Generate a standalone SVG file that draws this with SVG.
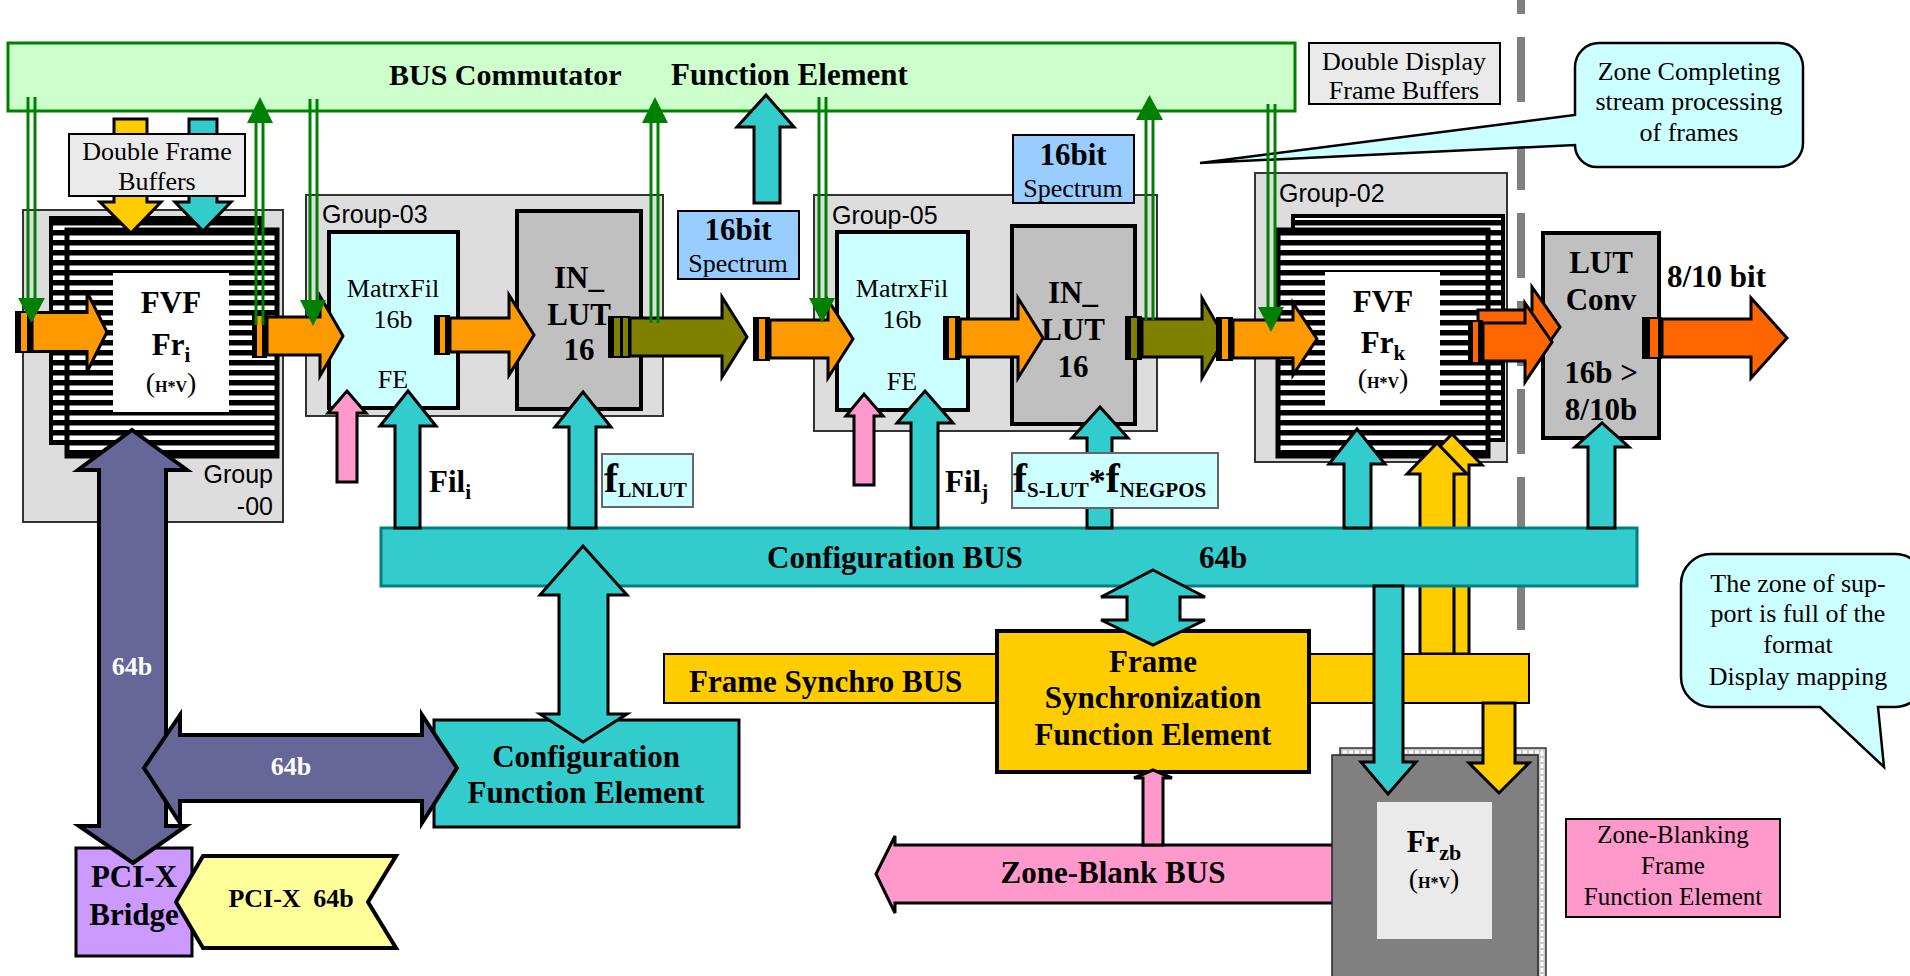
<svg xmlns="http://www.w3.org/2000/svg" width="1910" height="976" viewBox="0 0 1910 976">
<defs>
<pattern id="stripes" patternUnits="userSpaceOnUse" width="10" height="10">
<rect width="10" height="10" fill="#fff"/>
<rect width="10" height="5.5" fill="#000"/>
</pattern>
<style>
.b{font-family:"Liberation Serif",serif;font-weight:bold;fill:#000}
.r{font-family:"Liberation Serif",serif;fill:#000}
.s{font-family:"Liberation Sans",sans-serif;fill:#000}
.grp{fill:#DDDDDD;stroke:#333;stroke-width:2}
.ln{stroke:#000;stroke-width:3;stroke-linejoin:miter}
.thin{stroke:#000;stroke-width:2}
.cy{fill:#33CCCC}
.ye{fill:#FFCC00}
.pk{fill:#FF99CC}
.or{fill:#FF9900}
.dor{fill:#FF6600}
.ol{fill:#808000}
.pu{fill:#666699}
.gl{stroke:#008000;stroke-width:3}
.gh{fill:#008000}
.fr{fill:url(#stripes);stroke:#000}
</style>
</defs>
<rect width="1910" height="976" fill="#fff"/>

<line x1="1521" y1="-51" x2="1521" y2="630" stroke="#808080" stroke-width="8" stroke-dasharray="65 23"/>

<g id="bus-commutator">
<rect x="8" y="43" width="1287" height="68" fill="#CCFFCC" stroke="#008000" stroke-width="3"/>
<text class="b" x="389" y="85" font-size="30">BUS Commutator</text>
<text class="b" x="671" y="85" font-size="31">Function Element</text>
</g>

<g id="double-display">
<rect x="1309" y="43" width="191" height="61" fill="#EAEAEA" class="thin"/>
<text class="r" x="1404" y="70" font-size="26" text-anchor="middle">Double Display</text>
<text class="r" x="1404" y="99" font-size="26" text-anchor="middle">Frame Buffers</text>
</g>

<g id="callout-zone-completing">
<path d="M1599,43 H1779 A24,24 0 0 1 1803,67 V143 A24,24 0 0 1 1779,167 H1597 A22,22 0 0 1 1575,145 L1200,163 L1575,115 V67 A24,24 0 0 1 1599,43 Z" fill="#CCFFFF" stroke="#000" stroke-width="2.5"/>
<text class="r" x="1689" y="80" font-size="26" text-anchor="middle">Zone Completing</text>
<text class="r" x="1689" y="110" font-size="26" text-anchor="middle">stream processing</text>
<text class="r" x="1689" y="141" font-size="26" text-anchor="middle">of frames</text>
</g>

<g id="group-00">
<rect class="grp" x="23" y="210" width="260" height="312"/>
<text class="s" x="273" y="483" font-size="25" text-anchor="end">Group</text>
<text class="s" x="273" y="515" font-size="25" text-anchor="end">-00</text>
</g>
<g id="group-03">
<rect class="grp" x="306" y="195" width="357" height="221"/>
<text class="s" x="322" y="223" font-size="25">Group-03</text>
</g>
<g id="group-05">
<rect class="grp" x="814" y="195" width="343" height="236"/>
<text class="s" x="832" y="224" font-size="25">Group-05</text>
</g>
<g id="group-02">
<rect class="grp" x="1255" y="173" width="252" height="289"/>
<text class="s" x="1279" y="202" font-size="25">Group-02</text>
</g>

<g id="fvf-i">
<rect class="fr" x="51" y="218" width="210" height="225" stroke-width="4"/>
<rect class="fr" x="67" y="230" width="210" height="226" stroke-width="5"/>
<rect x="113" y="273" width="116" height="139" fill="#fff"/>
<text class="b" x="171" y="313" font-size="31" text-anchor="middle">FVF</text>
<text class="b" x="171" y="355" font-size="31" text-anchor="middle">Fr<tspan font-size="21" dy="7">i</tspan></text>
<text class="r" x="171" y="392" font-size="28" text-anchor="middle">(<tspan class="b" font-size="16">H*V</tspan>)</text>
</g>

<g id="connectors-dfb">
<polygon class="ye ln" points="114,119 147,119 147,202 161,202 131,233 100,202 114,202" stroke-width="2"/>
<polygon class="cy ln" points="189,119 217,119 217,202 231,202 203,231 175,202 189,202" stroke-width="2"/>
</g>

<g id="double-frame-buffers">
<rect x="69" y="134" width="176" height="62" fill="#EAEAEA" class="thin"/>
<text class="r" x="157" y="160" font-size="26" text-anchor="middle">Double Frame</text>
<text class="r" x="157" y="190" font-size="26" text-anchor="middle">Buffers</text>
</g>

<g id="fvf-k">
<rect class="fr" x="1293" y="216" width="210" height="224" stroke-width="4"/>
<rect class="fr" x="1278" y="230" width="210" height="226" stroke-width="5"/>
<rect x="1325" y="272" width="115" height="136" fill="#fff"/>
<text class="b" x="1383" y="312" font-size="31" text-anchor="middle">FVF</text>
<text class="b" x="1383" y="353" font-size="31" text-anchor="middle">Fr<tspan font-size="21" dy="7">k</tspan></text>
<text class="r" x="1383" y="388" font-size="28" text-anchor="middle">(<tspan class="b" font-size="16">H*V</tspan>)</text>
</g>

<g id="matrxfil-03">
<rect x="329" y="232" width="129" height="176" fill="#CCFFFF" stroke="#000" stroke-width="4"/>
<text class="r" x="393" y="297" font-size="26" text-anchor="middle">MatrxFil</text>
<text class="r" x="393" y="328" font-size="26" text-anchor="middle">16b</text>
<text class="r" x="393" y="388" font-size="26" text-anchor="middle">FE</text>
</g>
<g id="inlut-03">
<rect x="517" y="211" width="124" height="198" fill="#C0C0C0" stroke="#000" stroke-width="4"/>
<text class="b" x="579" y="288" font-size="31" text-anchor="middle">IN_</text>
<text class="b" x="579" y="325" font-size="31" text-anchor="middle">LUT</text>
<text class="b" x="579" y="360" font-size="31" text-anchor="middle">16</text>
</g>
<g id="spectrum-1">
<rect x="678" y="211" width="121" height="68" fill="#99CCFF" class="thin"/>
<text class="b" x="738" y="240" font-size="31" text-anchor="middle">16bit</text>
<text class="r" x="738" y="272" font-size="26" text-anchor="middle">Spectrum</text>
</g>
<g id="matrxfil-05">
<rect x="837" y="232" width="131" height="178" fill="#CCFFFF" stroke="#000" stroke-width="4"/>
<text class="r" x="902" y="297" font-size="26" text-anchor="middle">MatrxFil</text>
<text class="r" x="902" y="328" font-size="26" text-anchor="middle">16b</text>
<text class="r" x="902" y="390" font-size="26" text-anchor="middle">FE</text>
</g>
<g id="inlut-05">
<rect x="1012" y="226" width="123" height="198" fill="#C0C0C0" stroke="#000" stroke-width="4"/>
<text class="b" x="1073" y="303" font-size="31" text-anchor="middle">IN_</text>
<text class="b" x="1073" y="340" font-size="31" text-anchor="middle">LUT</text>
<text class="b" x="1073" y="377" font-size="31" text-anchor="middle">16</text>
</g>
<g id="spectrum-2">
<rect x="1013" y="135" width="121" height="68" fill="#99CCFF" class="thin"/>
<text class="b" x="1073" y="165" font-size="31" text-anchor="middle">16bit</text>
<text class="r" x="1073" y="197" font-size="26" text-anchor="middle">Spectrum</text>
</g>
<g id="lut-conv">
<rect x="1543" y="233" width="116" height="205" fill="#C0C0C0" stroke="#000" stroke-width="4"/>
<text class="b" x="1601" y="273" font-size="31" text-anchor="middle">LUT</text>
<text class="b" x="1601" y="310" font-size="31" text-anchor="middle">Conv</text>
<text class="b" x="1601" y="383" font-size="31" text-anchor="middle">16b &gt;</text>
<text class="b" x="1601" y="420" font-size="31" text-anchor="middle">8/10b</text>
</g>

<g id="connectors-mid">
<polygon class="cy ln" points="754,203 754,127 737,127 766,95 794,127 780,127 780,203"/>
<polygon class="ye ln" points="1435,654 1435,465 1422,465 1452,434 1482,465 1469,465 1469,654" stroke-width="2"/>
<polygon class="ye ln" points="1420,654 1420,474 1407,474 1437,443 1467,474 1454,474 1454,654" stroke-width="2"/>
</g>

<g id="configuration-bus">
<rect x="381" y="528" width="1256" height="58" fill="#33CCCC" stroke="#008080" stroke-width="3"/>
<text class="b" x="767" y="568" font-size="31">Configuration BUS</text>
<text class="b" x="1199" y="568" font-size="31">64b</text>
</g>

<g id="connectors-config">
<polygon class="cy ln" points="395,528 395,426 380,426 408,391 436,426 420,426 420,528"/>
<polygon class="cy ln" points="569,528 569,427 555,427 583,392 611,427 596,427 596,528"/>
<polygon class="cy ln" points="911,528 911,423 897,423 925,391 953,423 938,423 938,528"/>
<polygon class="cy ln" points="1087,528 1087,438 1072,438 1100,407 1128,438 1112,438 1112,528"/>
<polygon class="cy ln" points="1344,528 1344,464 1329,464 1357,429 1385,464 1371,464 1371,528"/>
<polygon class="cy ln" points="1588,528 1588,447 1575,447 1602,423 1629,447 1615,447 1615,528"/>
<polygon class="pk ln" points="337,482 337,413 328,413 347,391 366,413 357,413 357,482"/>
<polygon class="pk ln" points="854,485 854,416 846,416 864,394 883,416 874,416 874,485"/>
</g>

<g id="label-fil-i"><text class="b" x="429" y="492" font-size="31">Fil<tspan font-size="21" dy="7">i</tspan></text></g>
<g id="label-fil-j"><text class="b" x="945" y="492" font-size="31">Fil<tspan font-size="21" dy="7">j</tspan></text></g>
<g id="label-flnlut">
<rect x="602" y="454" width="91" height="53" fill="#CCFFFF" stroke="#666" stroke-width="2"/>
<text class="b" x="604" y="492" font-size="42">f<tspan font-size="20" dy="5">LNLUT</tspan></text>
</g>
<g id="label-fslut">
<rect x="1012" y="453" width="206" height="55" fill="#CCFFFF" stroke="#666" stroke-width="2"/>
<text class="b" x="1013" y="492" font-size="42">f<tspan font-size="21" dy="5">S-LUT</tspan><tspan font-size="34" dy="-5">*</tspan>f<tspan font-size="21" dy="5">NEGPOS</tspan></text>
</g>

<g id="frame-synchro-bus">
<rect x="664" y="654" width="865" height="49" fill="#FFCC00" class="thin"/>
<text class="b" x="689" y="692" font-size="31">Frame Synchro BUS</text>
</g>
<g id="frame-sync-fe">
<rect x="997" y="631" width="312" height="141" fill="#FFCC00" stroke="#000" stroke-width="4"/>
<text class="b" x="1153" y="672" font-size="31" text-anchor="middle">Frame</text>
<text class="b" x="1153" y="708" font-size="31" text-anchor="middle">Synchronization</text>
<text class="b" x="1153" y="745" font-size="31" text-anchor="middle">Function Element</text>
</g>
<g id="config-fe">
<rect x="434" y="720" width="305" height="107" fill="#33CCCC" stroke="#000" stroke-width="3"/>
<text class="b" x="586" y="767" font-size="31" text-anchor="middle">Configuration</text>
<text class="b" x="586" y="803" font-size="31" text-anchor="middle">Function Element</text>
</g>

<g id="connectors-low">
<polygon class="cy ln" points="1153,570 1205,597 1180,597 1180,620 1205,620 1153,645 1101,620 1127,620 1127,597 1101,597"/>
<polygon class="cy ln" points="583,546 627,595 608,595 608,714 627,714 583,742 540,714 559,714 559,595 540,595"/>
<polygon class="pk ln" points="1336,845 895,845 895,836 876,874 895,913 895,903 1336,903"/>
<polygon class="pk ln" points="1143,845 1143,778 1134,778 1153,770 1172,778 1163,778 1163,845" stroke-width="2"/>
</g>
<g id="zone-blank-label"><text class="b" x="1113" y="883" font-size="31" text-anchor="middle">Zone-Blank BUS</text></g>

<g id="fr-zb">
<rect x="1340" y="748" width="206" height="230" fill="#C8C8C8" stroke="#333" stroke-width="1.5"/>
<line x1="1343" y1="752" x2="1543" y2="752" stroke="#fff" stroke-width="3" stroke-dasharray="4 2"/>
<line x1="1542" y1="752" x2="1542" y2="976" stroke="#fff" stroke-width="3" stroke-dasharray="4 2"/>
<rect x="1332" y="755" width="206" height="223" fill="#808080" stroke="#222" stroke-width="1.5"/>
<rect x="1377" y="802" width="115" height="137" fill="#EAEAEA"/>
<text class="b" x="1434" y="852" font-size="31" text-anchor="middle">Fr<tspan font-size="22" dy="8">zb</tspan></text>
<text class="r" x="1434" y="888" font-size="28" text-anchor="middle">(<tspan class="b" font-size="16">H*V</tspan>)</text>
</g>

<g id="connectors-zb">
<polygon class="cy ln" points="1374,586 1403,586 1403,762 1416,762 1388,794 1361,762 1374,762"/>
<polygon class="ye ln" points="1483,703 1515,703 1515,763 1529,763 1499,793 1469,763 1483,763" stroke-width="2"/>
</g>

<g id="pci-bridge">
<rect x="76" y="848" width="116" height="108" fill="#CC99FF" stroke="#000" stroke-width="3"/>
<text class="b" x="134" y="887" font-size="31" text-anchor="middle">PCI-X</text>
<text class="b" x="134" y="925" font-size="31" text-anchor="middle">Bridge</text>
</g>
<g id="pci-x-64b">
<polygon points="203,856 396,856 368,902 396,948 203,948 176,902" fill="#FFFF99" stroke="#000" stroke-width="4"/>
<text class="b" x="291" y="907" font-size="26" text-anchor="middle">PCI-X <tspan dx="6">64b</tspan></text>
</g>

<g id="connectors-purple">
<polygon class="pu" points="132,430 187,470 166,470 166,826 186,826 133,863 79,826 99,826 99,470 78,470" stroke="#000" stroke-width="4"/>
<polygon class="pu" points="144,768 180,715 180,735 422,735 422,715 457,768 422,823 422,801 180,801 180,823" stroke="#000" stroke-width="4"/>
<text class="b" x="132" y="675" font-size="26" text-anchor="middle" style="fill:#fff">64b</text>
<text class="b" x="291" y="775" font-size="26" text-anchor="middle" style="fill:#fff">64b</text>
</g>

<g id="connectors-stream">
<rect x="15" y="311" width="17" height="42" fill="#000"/><rect x="21" y="313" width="6" height="38" class="or"/>
<polygon class="or ln" points="32,312.5 87,312.5 87,292 107,332 87,372 87,351.5 32,351.5"/>
<rect x="252" y="314" width="15" height="44" fill="#000"/><rect x="257" y="316" width="5" height="40" class="or"/>
<polygon class="or ln" points="267,317 320,317 320,296 343,336 320,376 320,355 267,355"/>
<rect x="434" y="315" width="16" height="40" fill="#000"/><rect x="440" y="317" width="5" height="36" class="or"/>
<polygon class="or ln" points="450,318 509,318 509,295 534,335 509,375 509,352 450,352"/>
<rect x="608" y="316" width="22" height="42" fill="#000"/><rect x="614" y="318" width="6" height="38" class="ol"/><rect x="623" y="318" width="5" height="38" class="ol"/>
<polygon class="ol ln" points="630,318 722,318 722,297 747,337 722,377 722,356 630,356"/>
<rect x="753" y="317" width="17" height="44" fill="#000"/><rect x="759" y="319" width="6" height="40" class="or"/>
<polygon class="or ln" points="770,320 828,320 828,300 853,339 828,378 828,358 770,358"/>
<rect x="943" y="316" width="17" height="44" fill="#000"/><rect x="949" y="318" width="6" height="40" class="or"/>
<polygon class="or ln" points="960,319 1018,319 1018,298 1043,338 1018,378 1018,357 960,357"/>
<rect x="1125" y="316" width="17" height="44" fill="#000"/><rect x="1131" y="318" width="6" height="40" class="ol"/>
<polygon class="ol ln" points="1142,319 1202,319 1202,298 1225,338 1202,378 1202,357 1142,357"/>
<rect x="1216" y="317" width="17" height="44" fill="#000"/><rect x="1222" y="319" width="6" height="40" class="or"/>
<polygon class="or ln" points="1233,320 1293,320 1293,303 1317,339 1293,375 1293,358 1233,358"/>
<polygon class="dor ln" points="1478,310 1532,310 1532,287 1560,327 1532,367 1532,344 1478,344"/>
<rect x="1468" y="320" width="15" height="44" fill="#000"/><rect x="1473" y="322" width="5" height="40" class="dor"/>
<polygon class="dor ln" points="1483,323 1525,323 1525,303 1552,342 1525,382 1525,361 1483,361"/>
<rect x="1642" y="317" width="20" height="42" fill="#000"/><rect x="1650" y="319" width="8" height="38" class="dor"/>
<polygon class="dor ln" points="1662,319 1751,319 1751,298 1787,338 1751,378 1751,357 1662,357"/>
</g>
<g id="label-8-10-bit"><text class="b" x="1667" y="287" font-size="31">8/10 bit</text></g>

<g id="connectors-green">
<line class="gl" x1="28" y1="97" x2="28" y2="300"/><line class="gl" x1="35" y1="97" x2="35" y2="300"/>
<polygon class="gh" points="18,298 45,298 31.5,323"/>
<line class="gl" x1="256" y1="121" x2="256" y2="325"/><line class="gl" x1="263" y1="121" x2="263" y2="325"/>
<polygon class="gh" points="247,123 273,123 260,97"/>
<line class="gl" x1="310" y1="99" x2="310" y2="302"/><line class="gl" x1="317" y1="99" x2="317" y2="302"/>
<polygon class="gh" points="300,300 326,300 313,326"/>
<line class="gl" x1="651" y1="121" x2="651" y2="323"/><line class="gl" x1="658" y1="121" x2="658" y2="323"/>
<polygon class="gh" points="642,123 668,123 655,97"/>
<line class="gl" x1="819" y1="97" x2="819" y2="300"/><line class="gl" x1="826" y1="97" x2="826" y2="300"/>
<polygon class="gh" points="809,298 835,298 822,323"/>
<line class="gl" x1="1146" y1="118" x2="1146" y2="320"/><line class="gl" x1="1153" y1="118" x2="1153" y2="320"/>
<polygon class="gh" points="1136,120 1163,120 1149.5,95"/>
<line class="gl" x1="1268" y1="104" x2="1268" y2="309"/><line class="gl" x1="1275" y1="104" x2="1275" y2="309"/>
<polygon class="gh" points="1258,307 1284,307 1271,332"/>
</g>

<g id="callout-zone-support">
<path d="M1711,554 H1895 A30,30 0 0 1 1925,584 V677 A30,30 0 0 1 1895,707 H1878 L1884,767 L1820,707 H1711 A30,30 0 0 1 1681,677 V584 A30,30 0 0 1 1711,554 Z" fill="#CCFFFF" stroke="#000" stroke-width="2.5"/>
<text class="r" x="1798" y="592" font-size="26" text-anchor="middle">The zone of sup-</text>
<text class="r" x="1798" y="622" font-size="26" text-anchor="middle">port is full of the</text>
<text class="r" x="1798" y="653" font-size="26" text-anchor="middle">format</text>
<text class="r" x="1798" y="685" font-size="26" text-anchor="middle">Display mapping</text>
</g>

<g id="zone-blanking-fe">
<rect x="1566" y="819" width="214" height="98" fill="#FF99CC" class="thin"/>
<text class="r" x="1673" y="843" font-size="25" text-anchor="middle">Zone-Blanking</text>
<text class="r" x="1673" y="874" font-size="25" text-anchor="middle">Frame</text>
<text class="r" x="1673" y="905" font-size="25" text-anchor="middle">Function Element</text>
</g>
</svg>
